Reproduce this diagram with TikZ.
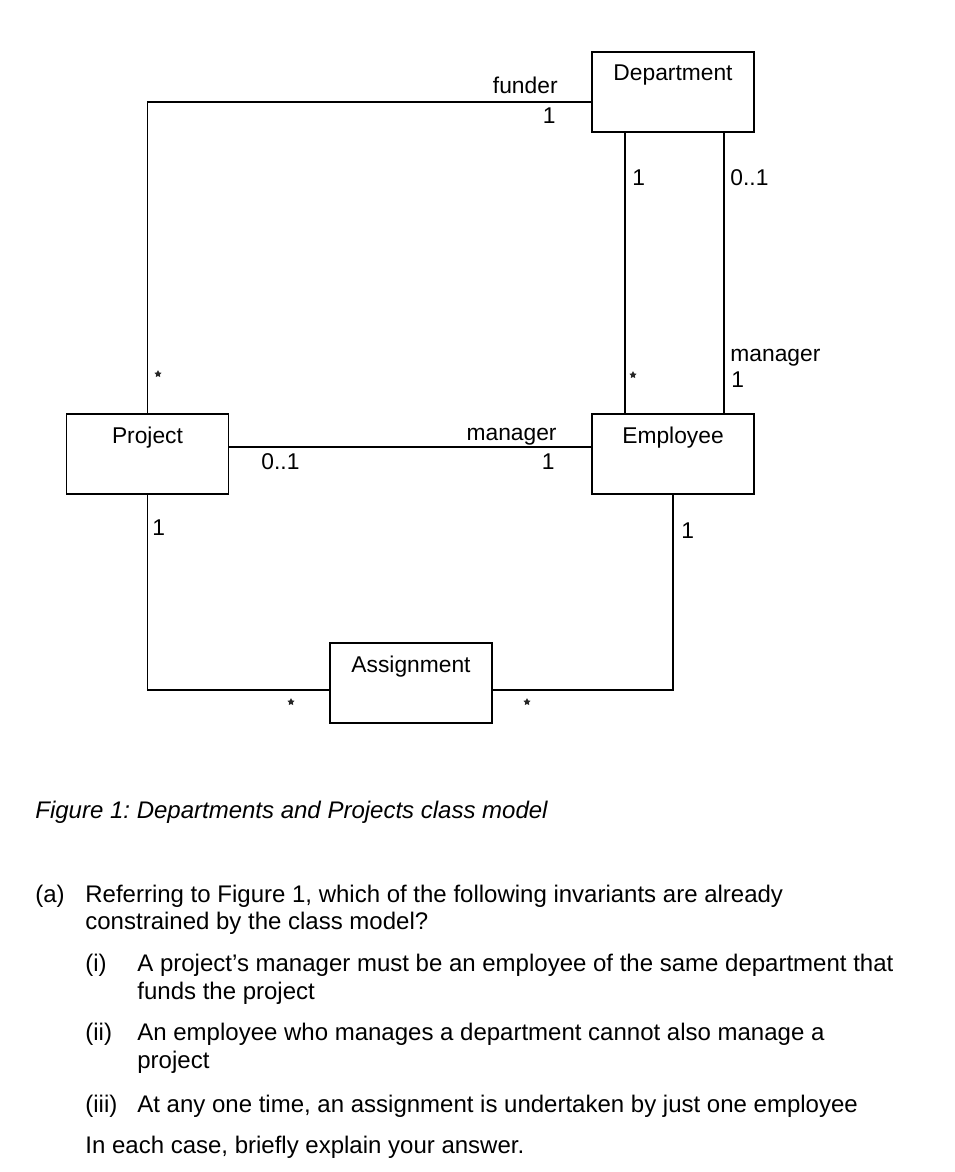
\documentclass[tikz,border=0pt]{standalone}
\usepackage{fontspec}
\setmainfont{Liberation Sans}
\usetikzlibrary{shapes.geometric}
\frenchspacing
\begin{document}
\begin{tikzpicture}[x=0.5pt,y=-0.5pt]
\useasboundingbox (0,0) rectangle (954,1172);
\tikzset{ClassStyle/.style = {
shape = rectangle,
draw,
line width = 0.65pt,
inner sep = 0pt,
minimum width = 81pt,
text height = 14.5pt,
text depth = 25.5pt,
font = \fontsize{11.4}{13}\selectfont},
MultStyle/.style = {
inner sep = 0pt,
font = \fontsize{11.4}{13}\selectfont},
StarStyle/.style = {
shape = star,
star points = 5,
star point ratio = 2,
fill = black!85,
inner sep = 0pt,
minimum size = 3.8pt},
AssocStyle/.style = {
line width = 0.65pt},
TextStyle/.style = {
inner sep = 0pt,
anchor = base west,
font = \fontsize{12}{14}\selectfont}}
\node[ClassStyle] (Department) at (673,92) {Department};
\node[ClassStyle] (Project) at (147.5,454) {Project};
\node[ClassStyle] (Employee) at (673,454) {Employee};
\node[ClassStyle] (Assignment) at (411,683) {Assignment};
\draw[AssocStyle] (Project.north) |- ([yshift=-5pt]Department.west);
\draw[AssocStyle] ([xshift=-24pt]Department.south) -- ([xshift=-24pt]Employee.north);
\draw[AssocStyle] ([xshift=25.5pt]Department.south) -- ([xshift=25.5pt]Employee.north);
\draw[AssocStyle] ([yshift=3.5pt]Project.east) -- ([yshift=3.5pt]Employee.west);
\draw[AssocStyle] (Project.south) |- ([yshift=-3.5pt]Assignment.west);
\draw[AssocStyle] ([yshift=-3.5pt]Assignment.east) -| (Employee.south);
\node[MultStyle, anchor=base east] (funderRole) at (558,94) {funder};
\node[MultStyle, anchor=base east] (funderMult) at (556,124) {1};
\node[StarStyle] (fundedMult) at (158,374) {};
\node[MultStyle, anchor=base west] (worksMult) at (632,185) {1};
\node[StarStyle] (staffMult) at (633,375) {};
\node[MultStyle, anchor=base west] (headsMult) at (730,185) {0..1};
\node[MultStyle, anchor=base west] (headRole) at (730,361) {manager};
\node[MultStyle, anchor=base west] (headMult) at (731,387) {1};
\node[MultStyle, anchor=base east] (managerRole) at (557,440) {manager};
\node[MultStyle, anchor=base east] (managerMult) at (555,469) {1};
\node[MultStyle, anchor=base west] (managedMult) at (261,469) {0..1};
\node[MultStyle, anchor=base west] (projectMult) at (152,535) {1};
\node[MultStyle, anchor=base west] (employeeMult) at (681,538) {1};
\node[StarStyle] (projAsgMult) at (291,702) {};
\node[StarStyle] (empAsgMult) at (527,702) {};
\node[TextStyle] (caption) at (35,818) {\itshape Figure 1: Departments and Projects class model};
\node[TextStyle] (partA) at (35,902) {(a)};
\node[TextStyle] (partAa) at (85,902) {Referring to Figure 1, which of the following invariants are already};
\node[TextStyle] (partAb) at (85,929) {constrained by the class model?};
\node[TextStyle] (itemI) at (85,971) {(i)};
\node[TextStyle] (itemIa) at (137,971) {A project’s manager must be an employee of the same department that};
\node[TextStyle] (itemIb) at (137,999) {funds the project};
\node[TextStyle] (itemII) at (85,1040) {(ii)};
\node[TextStyle] (itemIIa) at (137,1040) {An employee who manages a department cannot also manage a};
\node[TextStyle] (itemIIb) at (137,1068) {project};
\node[TextStyle] (itemIII) at (85,1112) {(iii)};
\node[TextStyle] (itemIIIa) at (137,1112) {At any one time, an assignment is undertaken by just one employee};
\node[TextStyle] (closing) at (85,1153) {In each case, briefly explain your answer.};
\end{tikzpicture}
\end{document}
